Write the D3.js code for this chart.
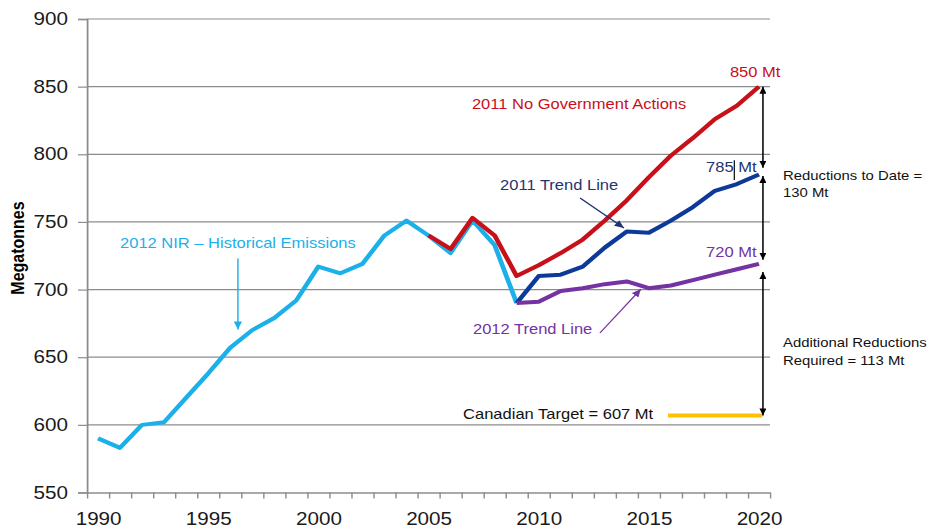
<!DOCTYPE html>
<html>
<head>
<meta charset="utf-8">
<script src="https://cdn.jsdelivr.net/npm/d3@7"></script>
<style>
  html, body { margin: 0; padding: 0; background: #fff; }
  svg { display: block; font-family: "Liberation Sans", Arial, sans-serif; }
</style>
</head>
<body>
<svg id="chart" width="929" height="529"></svg>
<script>
// emissions, Mt per year
const histYears = d3.range(1990, 2010);
const histValues = [590, 583, 600, 602, 620, 638, 657, 670, 679, 692, 717, 712, 719, 740, 751, 740, 727, 751, 733, 690];

const noGovYears = d3.range(2005, 2021);
const noGovValues = [740, 730, 753, 740, 710, 718, 727, 737, 751, 766, 783, 799, 812, 826, 836, 850];

const trendYears = d3.range(2009, 2021);
const trend2011Values = [690, 710, 711, 717, 731, 743, 742, 751, 761, 773, 778, 785];
const trend2012Values = [690, 691, 699, 701, 704, 706, 701, 703, 707, 711, 715, 719];

const targetValue = 607;
const targetYears = [2015.87, 2020.15];

const yTicks = [550, 600, 650, 700, 750, 800, 850, 900];
const xLabels = [1990, 1995, 2000, 2005, 2010, 2015, 2020];

const colors = {
    hist: "#1cb0ea",
    red: "#c8101a",
    navy: "#0d3a98",
    navyText: "#1f3470",
    purple: "#7432a2",
    target: "#ffc000",
    grid: "#8c8c8c"
};

// picture is wider than it is drawn: stretch the whole svg horizontally
const stretch = 1.18;
const W = 929 / stretch, H = 529;

const svg = d3.select("#chart")
    .attr("viewBox", `0 0 ${W} ${H}`)
    .attr("preserveAspectRatio", "none");

const x = d3.scaleLinear().domain([1989.5, 2020.5]).range([87 / stretch, 770 / stretch]);
const y = d3.scaleLinear().domain([550, 900]).range([492.5, 19]);

// markers for arrows
const defs = svg.append("defs");
function addMarker(id, color, len, wid) {
    defs.append("marker")
        .attr("id", id)
        .attr("markerUnits", "userSpaceOnUse")
        .attr("viewBox", `0 0 ${len} ${wid}`)
        .attr("refX", len).attr("refY", wid / 2)
        .attr("markerWidth", len).attr("markerHeight", wid)
        .attr("orient", "auto-start-reverse")
        .append("path")
        .attr("d", `M0,0 L${len},${wid / 2} L0,${wid} Z`)
        .attr("fill", color);
}
addMarker("arHist", colors.hist, 8, 7);
addMarker("arNavy", colors.navyText, 8, 7);
addMarker("arPurple", colors.purple, 8, 7);
addMarker("arBlack", "#000", 7, 6);

// gridlines
svg.append("g").selectAll("line")
    .data(yTicks.filter(d => d > 550))
    .join("line")
    .attr("x1", x.range()[0]).attr("x2", x.range()[1])
    .attr("y1", d => y(d)).attr("y2", d => y(d))
    .attr("stroke", colors.grid).attr("stroke-width", 1.2);

// y axis
const gy = svg.append("g")
    .attr("transform", `translate(${x.range()[0]},0)`)
    .call(d3.axisLeft(y).tickValues(yTicks).tickSizeOuter(0)
        .tickSize(9 / stretch).tickPadding(10 / stretch));
gy.select(".domain").attr("stroke", colors.grid).attr("stroke-width", 1.5);
gy.selectAll(".tick line").attr("stroke", colors.grid).attr("stroke-width", 1.2);
gy.selectAll("text").attr("font-size", 17.5).attr("fill", "#1a1a1a")
    .attr("font-family", "Liberation Sans, Arial, sans-serif");

// x axis: ticks between years
const gx = svg.append("g")
    .attr("transform", `translate(0,${y(550)})`)
    .call(d3.axisBottom(x).tickValues(d3.range(1989.5, 2021, 1))
        .tickSize(6).tickSizeOuter(0).tickFormat(() => ""));
gx.select(".domain").attr("stroke", colors.grid).attr("stroke-width", 1.5);
gx.selectAll(".tick line").attr("stroke", colors.grid).attr("stroke-width", 1.2);

const gxl = svg.append("g")
    .attr("transform", `translate(0,${y(550)})`)
    .call(d3.axisBottom(x).tickValues(xLabels).tickSize(0).tickPadding(20).tickFormat(d3.format("d")));
gxl.select(".domain").remove();
gxl.selectAll("text").attr("font-size", 17.5).attr("fill", "#1a1a1a")
    .attr("font-family", "Liberation Sans, Arial, sans-serif");

// y label
svg.append("text")
    .attr("transform", `translate(${18 / stretch},248) rotate(-90)`)
    .attr("text-anchor", "middle")
    .attr("dominant-baseline", "central")
    .attr("font-size", 16).attr("font-weight", "bold")
    .text("Megatonnes");

// lines
const line = d3.line().x(d => x(d[0])).y(d => y(d[1]));
function drawSeries(years, values, color) {
    svg.append("path")
        .datum(d3.zip(years, values))
        .attr("d", line)
        .attr("fill", "none")
        .attr("stroke", color)
        .attr("stroke-width", 4)
        .attr("stroke-linejoin", "round");
}
drawSeries(histYears, histValues, colors.hist);
drawSeries(noGovYears, noGovValues, colors.red);
drawSeries(trendYears, trend2011Values, colors.navy);
drawSeries(trendYears, trend2012Values, colors.purple);

// target
svg.append("path")
    .datum(targetYears.map(t => [t, targetValue]))
    .attr("d", line)
    .attr("stroke", colors.target)
    .attr("stroke-width", 4);

// double arrows between scenarios
const gapArrows = [[850, 790], [784, 722], [713, 607]];
svg.append("g").selectAll("line")
    .data(gapArrows)
    .join("line")
    .attr("x1", x(2020.18)).attr("x2", x(2020.18))
    .attr("y1", d => y(d[0])).attr("y2", d => y(d[1]))
    .attr("stroke", "#000").attr("stroke-width", 1.3)
    .attr("marker-start", "url(#arBlack)")
    .attr("marker-end", "url(#arBlack)");

// pointer arrows
const pointers = [
    { from: [1996.35, 723], to: [1996.35, 670.5], marker: "arHist", color: colors.hist },
    { from: [2011.88, 767.7], to: [2013.87, 745.5], marker: "arNavy", color: colors.navyText },
    { from: [2012.78, 667.9], to: [2014.64, 700.4], marker: "arPurple", color: colors.purple }
];
svg.append("g").selectAll("line")
    .data(pointers)
    .join("line")
    .attr("x1", d => x(d.from[0])).attr("y1", d => y(d.from[1]))
    .attr("x2", d => x(d.to[0])).attr("y2", d => y(d.to[1]))
    .attr("stroke", d => d.color).attr("stroke-width", 1.2)
    .attr("marker-end", d => `url(#${d.marker})`);

// labels
const notes = [
    { text: "2012 NIR \u2013 Historical Emissions", year: 1991.0, value: 730.7, color: colors.hist, size: 14 },
    { text: "2011 No Government Actions", year: 2006.97, value: 833.5, color: colors.red, size: 14 },
    { text: "850 Mt", year: 2018.68, value: 857.1, color: colors.red, size: 14 },
    { text: "785 Mt", year: 2017.6, value: 786.9, color: colors.navyText, size: 14 },
    { text: "720 Mt", year: 2017.6, value: 724.1, color: colors.purple, size: 14 },
    { text: "2011 Trend Line", year: 2008.25, value: 773.6, color: colors.navyText, size: 14 },
    { text: "2012 Trend Line", year: 2007.02, value: 667.2, color: colors.purple, size: 14 },
    { text: "Canadian Target = 607 Mt", year: 2006.57, value: 604.3, color: "#111", size: 14 },
    { text: "Reductions to Date =", year: 2021.09, value: 781.0, color: "#111", size: 12.6 },
    { text: "130 Mt", year: 2021.09, value: 768.4, color: "#111", size: 12.6 },
    { text: "Additional Reductions", year: 2021.09, value: 657.6, color: "#111", size: 12.6 },
    { text: "Required = 113 Mt", year: 2021.09, value: 644.2, color: "#111", size: 12.6 }
];
svg.append("g").selectAll("text")
    .data(notes)
    .join("text")
    .attr("x", d => x(d.year))
    .attr("y", d => y(d.value))
    .attr("font-size", d => d.size)
    .attr("fill", d => d.color)
    .text(d => d.text);

// small cursor mark inside "785 Mt"
svg.append("line")
    .attr("x1", x(2018.88)).attr("x2", x(2018.88))
    .attr("y1", y(795.5)).attr("y2", y(781))
    .attr("stroke", "#000").attr("stroke-width", 1);
</script>
</body>
</html>
